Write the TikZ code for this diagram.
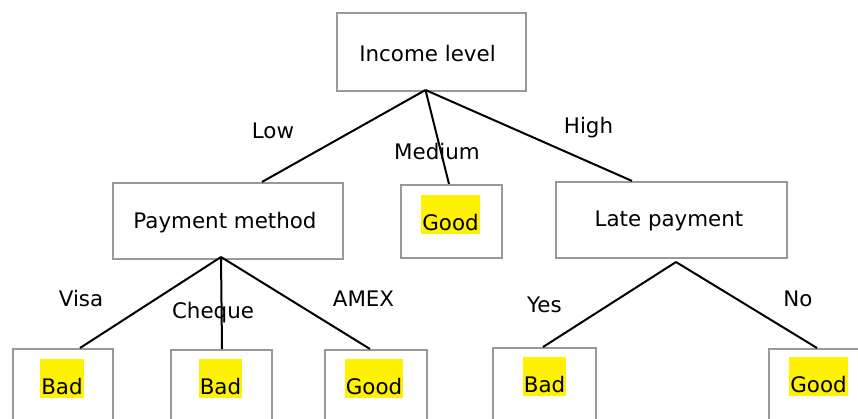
\documentclass[tikz,border=0pt]{standalone}
\usepackage{fontspec}
\setmainfont{DejaVu Sans}
\begin{document}
\begin{tikzpicture}[x=1pt,y=-1pt,
  box/.style={draw=boxgray, line width=2.1pt, fill=white, minimum width=#1, inner sep=0pt},
  lbl/.style={anchor=base, inner sep=0pt, font=\fontsize{21.4}{25}\selectfont, text=black},
  hl/.style={anchor=base, fill=yellow, inner xsep=1pt, inner ysep=0pt, text height=35pt, text depth=4pt, font=\fontsize{21.4}{25}\selectfont, text=black},
  conn/.style={draw=black, line width=2pt}]
\definecolor{boxgray}{HTML}{999999}
\useasboundingbox (0,0) rectangle (858,418);
\clip (0,0) rectangle (858,418);
% boxes
\node[box=189pt, minimum height=78pt] (inc) at (431.5,52) {};
\node[box=230pt, minimum height=76pt] (pay) at (228,221) {};
\node[box=101pt, minimum height=73pt] (med) at (451.5,221.5) {};
\node[box=231pt, minimum height=76pt] (late) at (671.5,220) {};
\node[box=100pt, minimum height=80pt, anchor=north] (b1) at (63,348) {};
\node[box=101pt, minimum height=80pt, anchor=north] (b2) at (221.5,349) {};
\node[box=102pt, minimum height=80pt, anchor=north] (b3) at (376,349) {};
\node[box=103pt, minimum height=80pt, anchor=north] (b4) at (544.5,347) {};
\node[box=101pt, minimum height=80pt, anchor=north] (b5) at (819.5,348) {};
% box texts
\node[lbl] (tinc) at (427.5,61) {Income level};
\node[lbl] (tpay) at (225,228) {Payment method};
\node[lbl] (tlate) at (669,226) {Late payment};
\node[hl] (tmed) at (450.5,230) {Good};
\node[hl] (tb1) at (62,394) {Bad};
\node[hl] (tb2) at (220.5,394) {Bad};
\node[hl] (tb3) at (374,394) {Good};
\node[hl] (tb4) at (544.5,392) {Bad};
\node[hl] (tb5) at (818.5,392) {Good};
% edge labels
\node[lbl] (llow) at (273,138) {Low};
\node[lbl] (lmed) at (437,159) {Medium};
\node[lbl] (lhigh) at (588.5,133) {High};
\node[lbl] (lvisa) at (81,306) {Visa};
\node[lbl] (lcheq) at (213,318) {Cheque};
\node[lbl] (lamex) at (363.5,306) {AMEX};
\node[lbl] (lyes) at (544.5,312) {Yes};
\node[lbl] (lno) at (798,306) {No};
% apex points
\coordinate (incA) at (425.5,90);
\coordinate (payA) at (221,257);
\coordinate (lateA) at (676,262);
% connectors
\draw[conn] (incA) -- ([xshift=34pt]pay.north);
\draw[conn] (incA) -- ([xshift=-2.5pt]med.north);
\draw[conn] (incA) -- ([xshift=-39.5pt]late.north);
\draw[conn] (payA) -- ([xshift=17pt]b1.north);
\draw[conn] (payA) -- ([xshift=0.5pt]b2.north);
\draw[conn] (payA) -- ([xshift=-6pt]b3.north);
\draw[conn] (lateA) -- ([xshift=-1.5pt]b4.north);
\draw[conn] (lateA) -- ([xshift=-2.5pt]b5.north);
\end{tikzpicture}
\end{document}
